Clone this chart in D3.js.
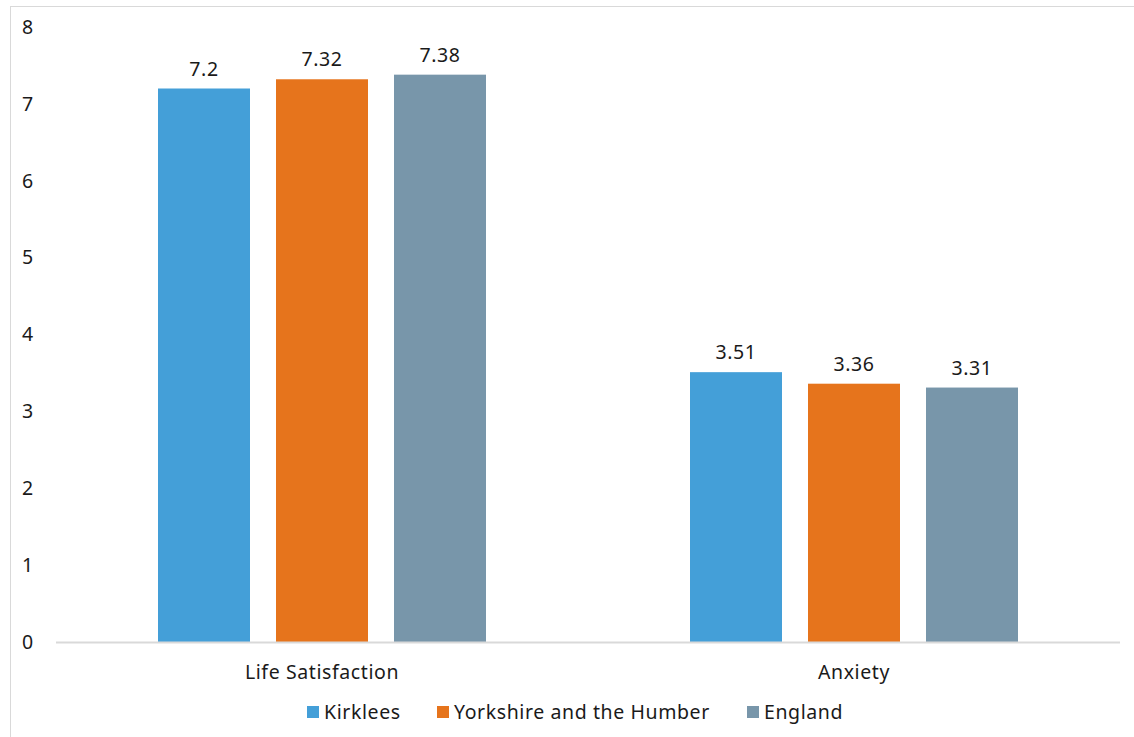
<!DOCTYPE html>
<html>
<head>
<meta charset="utf-8">
<script src="https://cdn.jsdelivr.net/npm/d3@7"></script>
<style>
  body { margin: 0; background: #fff; }
  text { font-family: "Noto Sans", sans-serif; fill: #1a1a1a; letter-spacing: 0.6px; }
</style>
</head>
<body>
<div id="chart"></div>
<script>
const categories = ["Life Satisfaction", "Anxiety"];
const seriesNames = ["Kirklees", "Yorkshire and the Humber", "England"];
const kirklees = [7.2, 3.51];
const yorkshire = [7.32, 3.36];
const england = [7.38, 3.31];
const yTicks = [0, 1, 2, 3, 4, 5, 6, 7, 8];
const colors = ["#449fd8", "#e6741c", "#7896aa"];

const seriesValues = [kirklees, yorkshire, england];
const width = 1134, height = 737;
const fontSize = "19.5px";

const svg = d3.select("#chart").append("svg")
    .attr("width", width)
    .attr("height", height);

// chart border
svg.append("rect")
    .attr("x", 10.5).attr("y", 6.5)
    .attr("width", 1140).attr("height", 760)
    .attr("fill", "none")
    .attr("stroke", "#d9d9d9");

const x0 = d3.scaleBand().domain(categories).range([56, 1120]).paddingInner(0).paddingOuter(0);
const x1 = d3.scaleBand().domain(seriesNames).range([102, 532 - 102]).paddingInner(26 / 118);
const y = d3.scaleLinear().domain([0, 8]).range([642, 27]);

// y tick labels
svg.append("g")
    .selectAll("text")
    .data(yTicks)
    .enter()
    .append("text")
    .attr("x", 28)
    .attr("y", (d) => y(d))
    .attr("dy", "0.35em")
    .attr("text-anchor", "middle")
    .style("font-size", fontSize)
    .text((d) => d);

// bars
const groups = svg.append("g")
    .selectAll("g")
    .data(categories)
    .enter()
    .append("g")
    .attr("transform", (d) => `translate(${x0(d)},0)`);

groups.selectAll("rect")
    .data((d, i) => seriesNames.map((s, j) => ({ s, j, v: seriesValues[j][i] })))
    .enter()
    .append("rect")
    .attr("x", (d) => x1(d.s))
    .attr("width", x1.bandwidth())
    .attr("y", (d) => y(d.v))
    .attr("height", (d) => y(0) - y(d.v))
    .attr("fill", (d) => colors[d.j]);

groups.selectAll("text.val")
    .data((d, i) => seriesNames.map((s, j) => ({ s, j, v: seriesValues[j][i] })))
    .enter()
    .append("text")
    .attr("class", "val")
    .attr("x", (d) => x1(d.s) + x1.bandwidth() / 2)
    .attr("y", (d) => y(d.v) - 13)
    .attr("text-anchor", "middle")
    .style("font-size", fontSize)
    .text((d) => d.v);

// baseline
svg.append("line")
    .attr("x1", 56).attr("x2", 1120)
    .attr("y1", 642.5).attr("y2", 642.5)
    .attr("stroke", "#d9d9d9")
    .attr("stroke-width", 2);

// category labels
svg.append("g")
    .selectAll("text")
    .data(categories)
    .enter()
    .append("text")
    .attr("x", (d) => x0(d) + x0.bandwidth() / 2)
    .attr("y", 679)
    .attr("text-anchor", "middle")
    .style("font-size", fontSize)
    .text((d) => d);

// legend
const legendX = [307, 437, 747];
const legend = svg.append("g")
    .selectAll("g")
    .data(seriesNames)
    .enter()
    .append("g")
    .attr("transform", (d, i) => `translate(${legendX[i]},706)`);

legend.append("rect")
    .attr("width", 12).attr("height", 12)
    .attr("fill", (d, i) => colors[i]);

legend.append("text")
    .attr("x", 17)
    .attr("y", 13)
    .style("font-size", fontSize)
    .text((d) => d);
</script>
</body>
</html>
